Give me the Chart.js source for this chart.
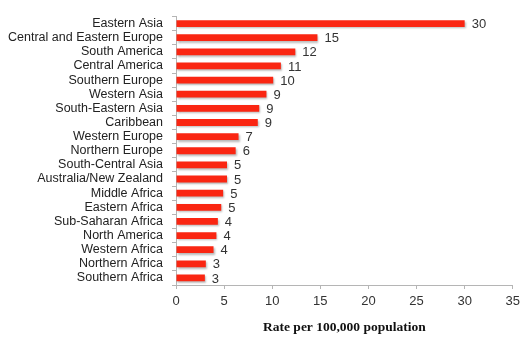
<!DOCTYPE html>
<html>
<head>
<meta charset="utf-8">
<script src="https://cdn.jsdelivr.net/npm/chart.js@4.4.1/dist/chart.umd.min.js"></script>
<style>
  html, body { margin: 0; padding: 0; background: #fff; }
  #wrap { width: 525px; height: 340px; }
</style>
</head>
<body>
<div id="wrap"><canvas id="chart" width="525" height="340"></canvas></div>
<script>
// regiones (de arriba hacia abajo)
const regions = [
  "Eastern Asia", "Central and Eastern Europe", "South America", "Central America",
  "Southern Europe", "Western Asia", "South-Eastern Asia", "Caribbean",
  "Western Europe", "Northern Europe", "South-Central Asia", "Australia/New Zealand",
  "Middle Africa", "Eastern Africa", "Sub-Saharan Africa", "North America",
  "Western Africa", "Northern Africa", "Southern Africa"
];
// longitud de barra
const rates = [30.0, 14.7, 12.4, 10.9, 10.1, 9.4, 8.65, 8.5, 6.5, 6.2, 5.3, 5.3, 4.9, 4.7, 4.35, 4.2, 3.9, 3.1, 3.0];
// etiquetas que se muestran al final de cada barra
const rateLabels = ["30", "15", "12", "11", "10", "9", "9", "9", "7", "6", "5", "5", "5", "5", "4", "4", "4", "3", "3"];
const xTicks = [0, 5, 10, 15, 20, 25, 30, 35];
const axisTitle = "Rate per 100,000 population";

const SANS = "'Liberation Sans', Arial, Helvetica, sans-serif";
const SERIF = "'Liberation Serif', 'DejaVu Serif', serif";

// sombra suave debajo de las barras
const shadowPlugin = {
  id: "barShadow",
  beforeDatasetsDraw(chart) {
    const ctx = chart.ctx;
    ctx.save();
    ctx.shadowColor = "rgba(0,0,0,0.28)";
    ctx.shadowBlur = 2;
    ctx.shadowOffsetX = 1;
    ctx.shadowOffsetY = 1.5;
  },
  afterDatasetsDraw(chart) {
    chart.ctx.restore();
  }
};

// valores a la derecha de cada barra
const valueLabels = {
  id: "valueLabels",
  afterDatasetsDraw(chart) {
    const ctx = chart.ctx;
    const meta = chart.getDatasetMeta(0);
    ctx.save();
    ctx.font = "13px " + SANS;
    ctx.fillStyle = "#333";
    ctx.textAlign = "left";
    ctx.textBaseline = "middle";
    meta.data.forEach((bar, i) => {
      ctx.fillText(rateLabels[i], bar.x + 7, bar.y + 1);
    });
    ctx.restore();
  }
};

new Chart(document.getElementById("chart").getContext("2d"), {
  type: "bar",
  data: {
    labels: regions,
    datasets: [{
      data: rates,
      backgroundColor: "rgb(250,38,18)",
      borderWidth: 0,
      barPercentage: 0.48,
      categoryPercentage: 1.0
    }]
  },
  options: {
    indexAxis: "y",
    responsive: false,
    animation: false,
    layout: { padding: { top: 6, right: 10, bottom: 0, left: 0 } },
    plugins: {
      legend: { display: false },
      tooltip: { enabled: false }
    },
    scales: {
      y: {
        offset: true,
        afterFit(scale) { scale.width = 176; },
        border: { display: true, color: "#b5b5b5", width: 1 },
        grid: { display: true, drawOnChartArea: false, offset: true, tickLength: 4, color: "#b5b5b5" },
        ticks: {
          color: "#222",
          padding: 9,
          font: { family: SANS, size: 12.5 },
          autoSkip: false
        }
      },
      x: {
        min: 0,
        max: 35,
        afterFit(scale) { scale.height = 55; },
        afterBuildTicks(scale) { scale.ticks = xTicks.map(v => ({ value: v })); },
        border: { display: true, color: "#b5b5b5", width: 1 },
        grid: { display: true, drawOnChartArea: false, tickLength: 4, color: "#b5b5b5" },
        ticks: {
          color: "#333",
          padding: 5,
          font: { family: SANS, size: 13 },
          maxRotation: 0
        },
        title: {
          display: true,
          text: axisTitle,
          color: "#111",
          font: { family: SERIF, size: 13.5, weight: "bold" },
          padding: { top: 0, bottom: 4 }
        }
      }
    }
  },
  plugins: [shadowPlugin, valueLabels]
});
</script>
</body>
</html>
